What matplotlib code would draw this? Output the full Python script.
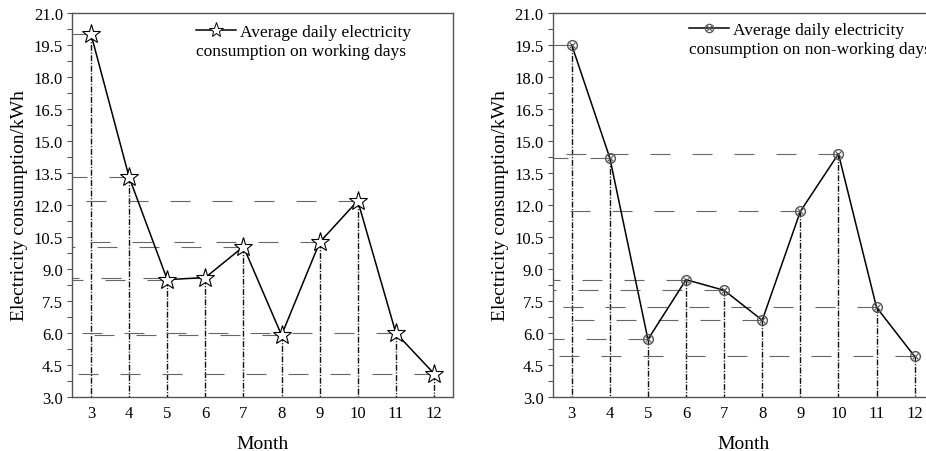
import matplotlib
matplotlib.use("Agg")
import matplotlib.pyplot as plt
from matplotlib.ticker import MultipleLocator, FormatStrFormatter
from matplotlib.lines import Line2D

plt.rcParams['font.family'] = ['Liberation Serif', 'DejaVu Serif']

months = [3, 4, 5, 6, 7, 8, 9, 10, 11, 12]
working = [20.0, 13.3, 8.5, 8.6, 10.05, 5.9, 10.25, 12.2, 6.0, 4.1]
nonworking = [19.5, 14.2, 5.7, 8.5, 8.0, 6.6, 11.7, 14.4, 7.2, 4.9]
legend_line1 = ["Average daily electricity", "Average daily electricity"]
legend_line2 = ["consumption on working days", "consumption on non-working days"]
xlabel = "Month"
ylabel = "Electricity consumption/kWh"

DPI = 100
fig = plt.figure(figsize=(9.26, 4.52), dpi=DPI)
W, H = 926, 452

def px_axes(l, t, r, b):
    return [l / W, 1 - b / H, (r - l) / W, (b - t) / H]

ax1 = fig.add_axes(px_axes(72, 14, 453, 398))
ax2 = fig.add_axes(px_axes(552.7, 14, 933.7, 398))

XMIN, XMAX = 2.5, 12.5
YMIN, YMAX = 3.0, 21.0
PT = 72.0 / DPI  # points per pixel

def style_axes(ax):
    ax.set_xlim(XMIN, XMAX)
    ax.set_ylim(YMIN, YMAX)
    ax.set_xticks(months)
    ax.yaxis.set_major_locator(MultipleLocator(1.5))
    ax.yaxis.set_minor_locator(MultipleLocator(0.75))
    ax.yaxis.set_major_formatter(FormatStrFormatter('%.1f'))
    ax.tick_params(axis='x', length=0, pad=6, labelsize=12)
    ax.tick_params(axis='y', which='major', direction='out', length=3.5, width=0.8,
                   pad=3, labelsize=12, color='#555555')
    ax.tick_params(axis='y', which='minor', direction='out', length=3.5, width=0.8,
                   color='#555555')
    for s in ax.spines.values():
        s.set_color('#555555')
        s.set_linewidth(1.0)
    ax.set_xlabel(xlabel, fontsize=14, labelpad=10)
    ax.set_ylabel(ylabel, fontsize=14, labelpad=4)

h_lw = 0.8
v_lw = 1.0
hdash = (0, (20 * PT / h_lw, 22 * PT / h_lw))
vdash = (0, (6 * PT / v_lw, 1.6 * PT / v_lw, 1.2 * PT / v_lw, 1.6 * PT / v_lw))

def draw_panel(ax, vals, kind):
    for m, v in zip(months, vals):
        ax.plot([m, XMIN], [v, v], color='#666666', lw=h_lw, linestyle=hdash, zorder=1)
        ax.plot([m, m], [v, YMIN], color='#111111', lw=v_lw, linestyle=vdash, zorder=1)
    ax.plot(months, vals, color='black', lw=1.1, zorder=3)
    if kind == 'star':
        ax.plot(months, vals, linestyle='none', marker='*', markersize=14,
                markerfacecolor='white', markeredgecolor='black', markeredgewidth=0.8, zorder=4)
        handle = Line2D([], [], color='black', lw=1.1, marker='*', markersize=11,
                        markerfacecolor='white', markeredgecolor='black', markeredgewidth=0.7)
        handles = [handle]
    else:
        ax.plot(months, vals, linestyle='none', marker='o', markersize=7,
                markerfacecolor='none', markeredgecolor='#555555', markeredgewidth=1.0, zorder=4)
        ax.plot(months, vals, linestyle='none', marker='x', markersize=5,
                markerfacecolor='none', markeredgecolor='#555555', markeredgewidth=0.8, zorder=4)
        hh1 = Line2D([], [], color='black', lw=1.1, marker='o', markersize=6,
                     markerfacecolor='none', markeredgecolor='#555555', markeredgewidth=0.9)
        hh2 = Line2D([], [], linestyle='none', marker='x', markersize=4,
                     markeredgecolor='#555555', markeredgewidth=0.8)
        handles = [(hh1, hh2)]
    return handles

h1 = draw_panel(ax1, working, 'star')
h2 = draw_panel(ax2, nonworking, 'circ')
style_axes(ax1)
style_axes(ax2)

def add_legend(ax, handles, l1, l2, handle_x_px, y1_px, y2_px, ax_left_px):
    ax_w = 381.0
    ax_h = 384.0
    lx = (handle_x_px - ax_left_px) / ax_w
    ax.legend(handles, [l1], loc='center left',
              bbox_to_anchor=(lx, 1 - (y1_px - 14) / ax_h),
              frameon=False, fontsize=12.5, handlelength=2.3, handletextpad=0.25,
              borderaxespad=0, borderpad=0)
    ax.text(lx, 1 - (y2_px - 14) / ax_h, l2, transform=ax.transAxes,
            fontsize=12.5, ha='left', va='center')

add_legend(ax1, h1, legend_line1[0], legend_line2[0], 196, 33, 52, 72)
add_legend(ax2, h2, legend_line1[1], legend_line2[1], 689, 31, 50.5, 552.7)

fig.savefig("out.png", dpi=DPI)
